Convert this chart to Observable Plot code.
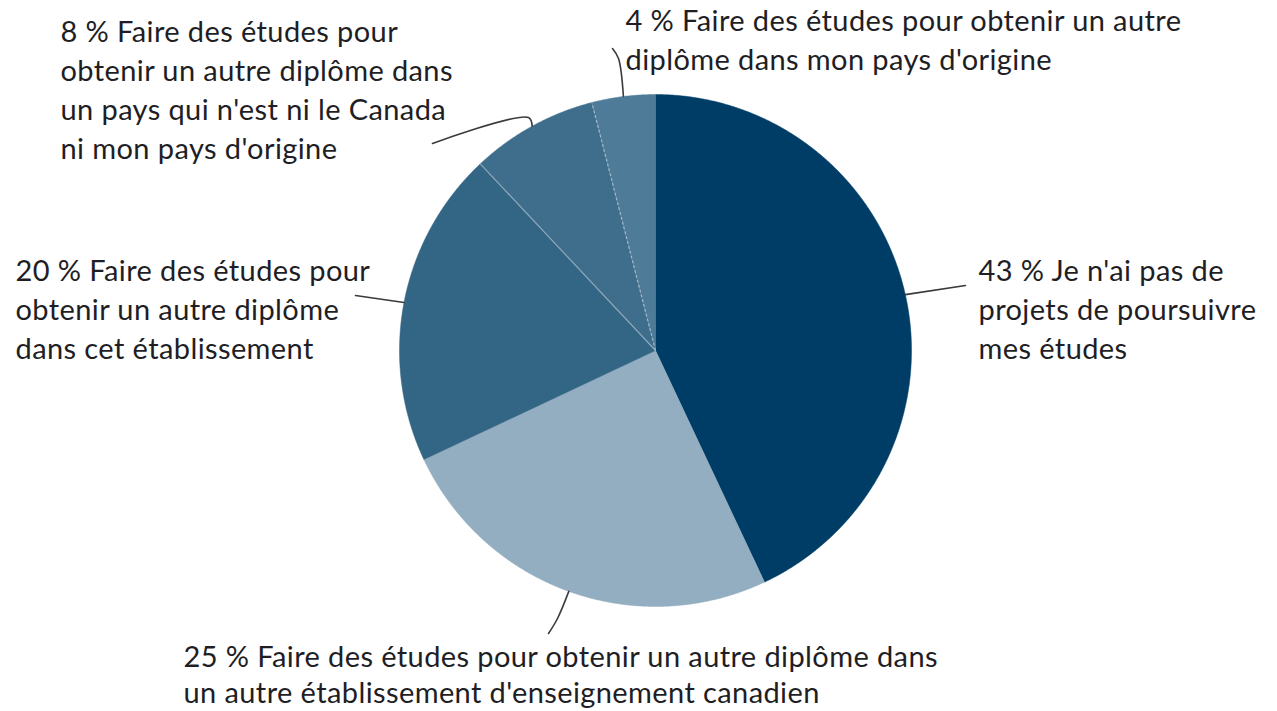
<!DOCTYPE html>
<html><head><meta charset="utf-8">
<script src="https://cdn.jsdelivr.net/npm/d3@7"></script>
<script src="https://cdn.jsdelivr.net/npm/@observablehq/plot@0.6"></script>
<style>body{margin:0;background:#fff} svg text{letter-spacing:0.4px}</style>
</head><body><div id="chart"></div>
<script>
// ---- data ----
const categories = [
  "Je n'ai pas de projets de poursuivre mes études",
  "Faire des études pour obtenir un autre diplôme dans un autre établissement d'enseignement canadien",
  "Faire des études pour obtenir un autre diplôme dans cet établissement",
  "Faire des études pour obtenir un autre diplôme dans un pays qui n'est ni le Canada ni mon pays d'origine",
  "Faire des études pour obtenir un autre diplôme dans mon pays d'origine"
];
const values = [43, 25, 20, 8, 4];
const labelTexts = [
  "43 % Je n'ai pas de\nprojets de poursuivre\nmes études",
  "25 % Faire des études pour obtenir un autre diplôme dans\nun autre établissement d'enseignement canadien",
  "20 % Faire des études pour\nobtenir un autre diplôme\ndans cet établissement",
  "8 % Faire des études pour\nobtenir un autre diplôme dans\nun pays qui n'est ni le Canada\nni mon pays d'origine",
  "4 % Faire des études pour obtenir un autre\ndiplôme dans mon pays d'origine"
];
const colors = ["#003d66", "#93aec0", "#336585", "#3f6e8d", "#4e7b98"];

// ---- layout (pixels) ----
const W = 1277, H = 711, CX = 655, CY = 350, R = 256;
const toX = px => (px - CX) / R;
const toY = py => (CY - py) / R;
// label top-left anchor in pixels, and line height
const labelPos = [[978, 253], [183, 641], [15, 253], [60, 14], [625, 3]];
const labelLH = [39, 36, 39, 39, 39];
// leader elbow points in pixels (after the slice edge point)
const leaderPts = [
  [[965, 285]],
  [[557, 618], [548, 633]],
  [[355, 295]],
  [[528, 117], [432, 143]],
  [[618, 58], [612, 48]]
];
const FS = 29;

// ---- build slices ----
const data = values.map((v, i) => ({category: categories[i], value: v, label: labelTexts[i], color: colors[i]}));
const arcs = d3.pie().sort(null).value(d => d.value)(data);
const polys = arcs.map((a, i) => {
  const pts = [{x: 0, y: 0, i}];
  const n = Math.max(2, Math.ceil((a.endAngle - a.startAngle) / 0.004));
  for (let k = 0; k <= n; k++) {
    const t = a.startAngle + (a.endAngle - a.startAngle) * k / n;
    pts.push({x: Math.sin(t), y: Math.cos(t), i});
  }
  pts.push({x: 0, y: 0, i});
  return pts;
});
const edge = t => ({x: Math.sin(t), y: Math.cos(t)});
const leaders = arcs.map((a, i) => {
  const m = edge((a.startAngle + a.endAngle) / 2);
  return [{x: m.x, y: m.y}, ...leaderPts[i].map(([px, py]) => ({x: toX(px), y: toY(py)}))];
});
const labels = data.map((d, i) => ({x: toX(labelPos[i][0]), y: toY(labelPos[i][1]), text: d.label, lh: labelLH[i]}));
const sep1 = edge(arcs[2].endAngle);
const sep2 = edge(arcs[3].endAngle);

const chart = Plot.plot({
  width: W, height: H, margin: 0,
  x: {domain: [toX(0), toX(W)], axis: null},
  y: {domain: [toY(H), toY(0)], axis: null},
  style: {fontFamily: "Lato, 'Open Sans', sans-serif", background: "white"},
  marks: [
    ...polys.map((p, i) => Plot.line(p, {x: "x", y: "y", fill: colors[i], stroke: colors[i], strokeWidth: 0.5})),
    Plot.link([{x1: 0, y1: 0, x2: sep1.x, y2: sep1.y}], {x1: "x1", y1: "y1", x2: "x2", y2: "y2", stroke: "#8ea8ba", strokeWidth: 1.2}),
    Plot.link([{x1: 0, y1: 0, x2: sep2.x, y2: sep2.y}], {x1: "x1", y1: "y1", x2: "x2", y2: "y2", stroke: "#a3b9c9", strokeWidth: 1.2, strokeDasharray: "3,2"}),
    ...leaders.map(l => Plot.line(l, {x: "x", y: "y", stroke: "#3a3a3a", strokeWidth: 1.6, curve: l.length > 2 ? "catmull-rom" : "linear"})),
    ...labels.map(l => Plot.text([l], {x: "x", y: "y", text: "text", textAnchor: "start", lineAnchor: "top", fontSize: FS, lineHeight: l.lh / FS, fill: "#1e1e24"}))
  ]
});
document.getElementById("chart").appendChild(chart);
</script>
</body></html>
